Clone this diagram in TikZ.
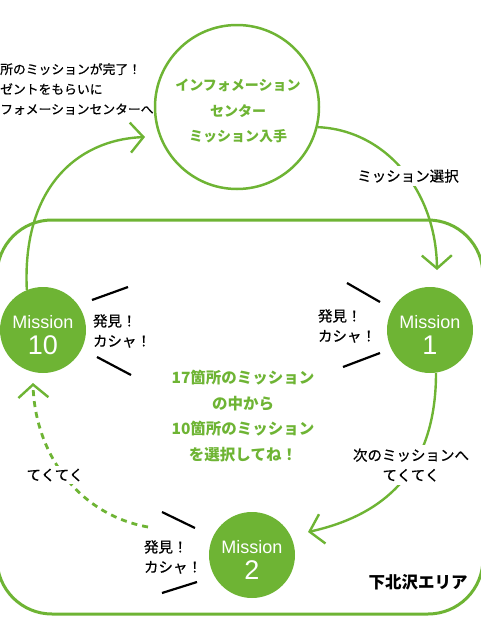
\documentclass[tikz,border=0pt]{standalone}
\usepackage{fontspec}
\newfontfamily\jp{Noto Sans CJK JP}
\newfontfamily\jpm{Noto Sans CJK JP}[FakeBold=0.6]
\newfontfamily\latinsans{Liberation Sans}
\usetikzlibrary{arrows.meta}
\definecolor{kgreen}{RGB}{110,180,52}
\tikzset{
  mission/.style={circle, fill=kgreen, inner sep=0pt, minimum size=86pt, text=white, align=center, font=\latinsans\fontsize{27}{26}\selectfont},
  flow/.style={draw=kgreen, line width=2.4pt, -{Straight Barb[length=13pt,width=30pt,line width=2.4pt]}},
  dashflow/.style={flow, dash pattern=on 6pt off 5pt, line width=2.8pt},
  blk/.style={font=\jpm\fontsize{14.5}{20}\selectfont, text=black, align=center, inner sep=1pt},
  grn/.style={font=\jp\bfseries\fontsize{14}{25.5}\selectfont, text=kgreen, align=center},
  tick/.style={draw=black, line width=2.2pt},
  wlabel/.style={blk, fill=white, inner sep=3pt}
}
\newcommand{\mis}[1]{{\fontsize{18}{18}\selectfont\rule{0pt}{23pt}Mission}\\#1}
\begin{document}
\begin{tikzpicture}[x=1pt,y=-1pt]
\useasboundingbox (0,0) rectangle (480,640);
% area
\draw[kgreen, line width=3pt, rounded corners=55pt] (-3,220) rectangle (483,614);
% info circle
\node[circle, draw=kgreen, line width=2.5pt, minimum size=164pt, inner sep=0pt] (info) at (237,107) {};
\node[grn] (infotext) at (238,111) {インフォメーション\\センター\\ミッション入手};
% top-left text
\node[blk, anchor=west, align=left, font=\jpm\fontsize{12.8}{20}\selectfont, inner sep=0pt] (done) at (0,89) {所のミッションが完了！\\ゼントをもらいに\\フォメーションセンターへ};
% missions
\node[mission] (m10) at (43,330) {\mis{10}};
\node[mission] (m1) at (430,330) {\mis{1}};
\node[mission] (m2) at (252,555) {\mis{2}};
% coordinates for free ends
\coordinate (tipA) at (145,137);
\coordinate (tipB) at (437,270);
\coordinate (tipC) at (308,532);
\coordinate (startD) at (148,527);
\coordinate (tipD) at (33,383);
% arrows
\draw[flow] (m10.112) .. controls (22,190) and (75,140) .. (tipA);
\draw[flow] (info.-14) .. controls (385,130) and (436,190) .. (tipB);
\draw[flow] (m1.-82) .. controls (436,470) and (385,515) .. (tipC);
\draw[dashflow] (startD) .. controls (80,515) and (35,455) .. (tipD);
% labels
\node[wlabel] (sel) at (408,176) {ミッション選択};
\node[wlabel] (next) at (411,465) {次のミッションへ\\てくてく};
\node[wlabel] (walk) at (55,475) {てくてく};
% center text
\node[grn, font=\jp\bfseries\fontsize{15.5}{25.5}\selectfont] (center) at (243,416) {17箇所のミッション\\の中から\\10箇所のミッション\\を選択してね！};
% found labels
\node[blk, align=left] (f10) at (122,331) {発見！\\カシャ！};
\draw[tick] (92,300) -- (128,287);
\draw[tick] (97,357) -- (131,375);
\node[blk, align=left] (f1) at (347,326) {発見！\\カシャ！};
\draw[tick] (347,283) -- (380,302);
\draw[tick] (343,367) -- (380,353);
\node[blk, align=left] (f2) at (173,557) {発見！\\カシャ！};
\draw[tick] (162,512) -- (195,528);
\draw[tick] (162,593) -- (197,582);
% area name
\node[font=\jp\bfseries\fontsize{16.5}{18}\selectfont] (area) at (418,582) {下北沢エリア};
\end{tikzpicture}
\end{document}
